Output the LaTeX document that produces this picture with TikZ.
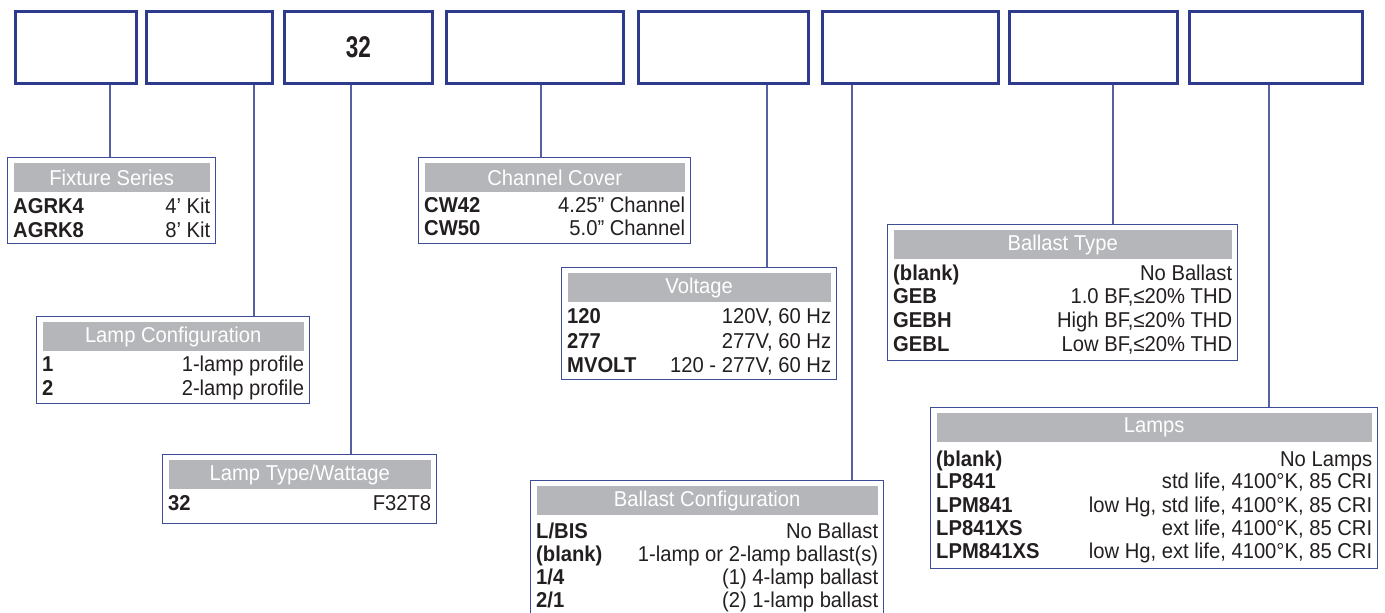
\documentclass[tikz,border=0pt]{standalone}
\usepackage{fontspec}
\setmainfont[FakeStretch=0.94]{Liberation Sans}
\usepackage{graphicx}
\usetikzlibrary{positioning}

\definecolor{codeblue}{HTML}{2E3B8C}
\definecolor{framblue}{HTML}{3F4C9A}
\definecolor{linkblue}{HTML}{5661A3}
\definecolor{headgray}{HTML}{B4B6B9}
\definecolor{inkgray}{HTML}{231F20}

\tikzset{
  codebox/.style={draw=codeblue, line width=3pt, minimum height=72pt, anchor=north west, inner sep=0pt},
  optbox/.style={draw=framblue, line width=1.4pt, anchor=north west, inner sep=0pt},
  opthead/.style={fill=headgray, text=white, minimum height=29pt, inner sep=0pt, anchor=north, font=\fontsize{21.5}{22}\selectfont},
  optkey/.style={anchor=base west, inner sep=0pt, text=inkgray, font=\fontsize{21.5}{22}\selectfont\bfseries},
  optval/.style={anchor=base east, inner sep=0pt, text=inkgray, font=\fontsize{21.5}{22}\selectfont},
  link/.style={draw=linkblue, line width=1.3pt}
}

% header band of an option box
\newcommand{\opthead}[3]{%
  \path (#1.north) ++(0,6) node[opthead, minimum width=#2] (#1-head) {#3};
}
% one option row: box, baseline below top, key, value
\newcommand{\optrow}[4]{%
  \path (#1.north west) ++(6,#2) node[optkey] {#3};
  \path (#1.north east) ++(-6,#2) node[optval] {#4};
}

\begin{document}
\begin{tikzpicture}[x=1pt, y=-1pt]
    \useasboundingbox (0,0) rectangle (1385,613);
    \clip (0,0) rectangle (1385,613);

    % Code boxes.
    \node[codebox, minimum width=121pt] (series)  at (14,10)   {};
    \node[codebox, minimum width=126pt] (config)  at (145,10)  {};
    \node[codebox, minimum width=148pt, text=inkgray,
          font=\fontsize{30}{30}\selectfont\bfseries] (wattage) at (283,10) {\scalebox{0.8}[1]{32}};
    \node[codebox, minimum width=177pt] (cover)   at (445,10)  {};
    \node[codebox, minimum width=170pt] (voltage) at (637,10)  {};
    \node[codebox, minimum width=176pt] (balconf) at (821,10)  {};
    \node[codebox, minimum width=168pt] (baltype) at (1008,10) {};
    \node[codebox, minimum width=173pt] (lamps)   at (1188,10) {};

    % Option boxes.
    \node[optbox, minimum width=208pt, minimum height=86pt]  (opt-series)  at (7,157)   {};
    \node[optbox, minimum width=273pt, minimum height=87pt]  (opt-config)  at (36,316)  {};
    \node[optbox, minimum width=274pt, minimum height=69pt]  (opt-wattage) at (162,454) {};
    \node[optbox, minimum width=272pt, minimum height=86pt]  (opt-cover)   at (418,157) {};
    \node[optbox, minimum width=275pt, minimum height=112pt] (opt-voltage) at (561,267) {};
    \node[optbox, minimum width=353pt, minimum height=150pt] (opt-balconf) at (530,480) {};
    \node[optbox, minimum width=350pt, minimum height=136pt] (opt-baltype) at (887,224) {};
    \node[optbox, minimum width=447pt, minimum height=161pt] (opt-lamps)   at (930,407) {};

    % Verbindungen.
    \foreach \n/\x in {series/110, config/254, wattage/351, cover/541,
                       voltage/767, balconf/852, baltype/1113, lamps/1269}
    {
        \coordinate (x-\n) at (\x,0);
        \draw[link] (\n.south -| x-\n) -- (opt-\n.north -| x-\n);
    }

    % Fixture Series
    \opthead{opt-series}{196pt}{Fixture Series}
    \optrow{opt-series}{56}{AGRK4}{4’ Kit}
    \optrow{opt-series}{80}{AGRK8}{8’ Kit}

    % Lamp Configuration
    \opthead{opt-config}{261pt}{Lamp Configuration}
    \optrow{opt-config}{55}{1}{1-lamp profile}
    \optrow{opt-config}{79}{2}{2-lamp profile}

    % Lamp Type/Wattage
    \opthead{opt-wattage}{262pt}{Lamp Type/Wattage}
    \optrow{opt-wattage}{56}{32}{F32T8}

    % Channel Cover
    \opthead{opt-cover}{260pt}{Channel Cover}
    \optrow{opt-cover}{55}{CW42}{4.25” Channel}
    \optrow{opt-cover}{78}{CW50}{5.0” Channel}

    % Voltage
    \opthead{opt-voltage}{263pt}{Voltage}
    \optrow{opt-voltage}{56}{120}{120V, 60 Hz}
    \optrow{opt-voltage}{81}{277}{277V, 60 Hz}
    \optrow{opt-voltage}{105}{MVOLT}{120 - 277V, 60 Hz}

    % Ballast Configuration
    \opthead{opt-balconf}{341pt}{Ballast Configuration}
    \optrow{opt-balconf}{58}{L/BIS}{No Ballast}
    \optrow{opt-balconf}{81}{(blank)}{1-lamp or 2-lamp ballast(s)}
    \optrow{opt-balconf}{104}{1/4}{(1) 4-lamp ballast}
    \optrow{opt-balconf}{127}{2/1}{(2) 1-lamp ballast}

    % Ballast Type
    \opthead{opt-baltype}{338pt}{Ballast Type}
    \optrow{opt-baltype}{56}{(blank)}{No Ballast}
    \optrow{opt-baltype}{79}{GEB}{1.0 BF,≤20\% THD}
    \optrow{opt-baltype}{103}{GEBH}{High BF,≤20\% THD}
    \optrow{opt-baltype}{127}{GEBL}{Low BF,≤20\% THD}

    % Lamps
    \opthead{opt-lamps}{435pt}{Lamps}
    \optrow{opt-lamps}{59}{(blank)}{No Lamps}
    \optrow{opt-lamps}{81}{LP841}{std life, 4100°K, 85 CRI}
    \optrow{opt-lamps}{105}{LPM841}{low Hg, std life, 4100°K, 85 CRI}
    \optrow{opt-lamps}{128}{LP841XS}{ext life, 4100°K, 85 CRI}
    \optrow{opt-lamps}{151}{LPM841XS}{low Hg, ext life, 4100°K, 85 CRI}
\end{tikzpicture}
\end{document}
